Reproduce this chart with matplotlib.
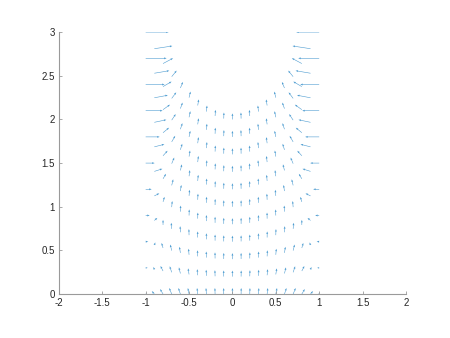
import numpy as np
import matplotlib
matplotlib.use("Agg")
import matplotlib.pyplot as plt

plt.rcParams['font.family'] = ['Liberation Sans', 'DejaVu Sans']
plt.rcParams['axes.unicode_minus'] = False

# grid: left half columns (x = -1 .. 0), right half is mirrored
x_left = [-1.0, -0.9, -0.8, -0.7, -0.6, -0.5, -0.4, -0.3, -0.2, -0.1, 0.0]
# height of the top row in each column
top_left = [3.0, 2.81, 2.64, 2.49, 2.36, 2.25, 2.16, 2.09, 2.04, 2.01, 2.0]
# fraction of the column height for each row (bottom to top)
row_frac = [0.0, 0.1, 0.2, 0.3, 0.4, 0.5, 0.6, 0.7, 0.8, 0.9, 1.0]

# horizontal component on the left half (rows bottom -> top), positive = inward
u_left = [
    [0.017, -0.029, -0.034, -0.029, -0.023, -0.014, -0.008, -0.005, -0.002, -0.001, 0.0],
    [0.023, -0.011, -0.029, -0.023, -0.017, -0.011, -0.006, -0.003, -0.002, -0.001, 0.0],
    [0.029, 0.011, -0.017, -0.017, -0.011, -0.006, -0.003, -0.002, -0.001, 0.0, 0.0],
    [0.046, 0.034, 0.0, -0.006, -0.003, -0.002, -0.001, 0.0, 0.0, 0.0, 0.0],
    [0.069, 0.057, 0.017, 0.006, 0.003, 0.002, 0.001, 0.0, 0.0, 0.0, 0.0],
    [0.103, 0.092, 0.034, 0.017, 0.011, 0.006, 0.003, 0.002, 0.001, 0.0, 0.0],
    [0.161, 0.115, 0.052, 0.029, 0.017, 0.009, 0.006, 0.003, 0.002, 0.001, 0.0],
    [0.195, 0.138, 0.069, 0.040, 0.021, 0.011, 0.008, 0.005, 0.003, 0.001, 0.0],
    [0.218, 0.155, 0.080, 0.046, 0.023, 0.014, 0.009, 0.006, 0.003, 0.001, 0.0],
    [0.241, 0.172, 0.098, 0.052, 0.025, 0.015, 0.010, 0.006, 0.003, 0.002, 0.0],
    [0.264, 0.207, 0.115, 0.057, 0.029, 0.017, 0.011, 0.007, 0.005, 0.002, 0.0],
]
# vertical component on the left half
v_left = [
    [0.0, 0.034, 0.057, 0.069, 0.069, 0.069, 0.069, 0.069, 0.069, 0.069, 0.069],
    [0.0, 0.029, 0.057, 0.069, 0.069, 0.069, 0.069, 0.069, 0.069, 0.069, 0.069],
    [0.0, 0.029, 0.057, 0.069, 0.069, 0.069, 0.069, 0.069, 0.069, 0.069, 0.069],
    [0.0, 0.029, 0.057, 0.069, 0.069, 0.069, 0.069, 0.069, 0.069, 0.069, 0.069],
    [0.0, 0.029, 0.057, 0.069, 0.069, 0.069, 0.069, 0.069, 0.069, 0.069, 0.069],
    [0.0, 0.029, 0.057, 0.069, 0.069, 0.069, 0.069, 0.069, 0.069, 0.069, 0.069],
    [0.0, 0.029, 0.057, 0.069, 0.069, 0.069, 0.069, 0.069, 0.069, 0.069, 0.069],
    [0.0, 0.029, 0.057, 0.069, 0.069, 0.069, 0.069, 0.069, 0.069, 0.069, 0.069],
    [0.0, 0.029, 0.057, 0.069, 0.069, 0.069, 0.069, 0.069, 0.069, 0.069, 0.069],
    [0.0, 0.029, 0.057, 0.069, 0.069, 0.069, 0.069, 0.069, 0.069, 0.069, 0.069],
    [0.0, 0.031, 0.061, 0.069, 0.069, 0.069, 0.069, 0.069, 0.069, 0.069, 0.069],
]

xt = [-2, -1.5, -1, -0.5, 0, 0.5, 1, 1.5, 2]
yt = [0, 0.5, 1, 1.5, 2, 2.5, 3]

# mirror the left half onto the right
xl = np.array(x_left)
x_all = np.concatenate([xl, -xl[-2::-1]])
top = np.array(top_left)
top_all = np.concatenate([top, top[-2::-1]])
ul = np.array(u_left)
vl = np.array(v_left)
U = np.hstack([ul, -ul[:, -2::-1]])
V = np.hstack([vl, vl[:, -2::-1]])

X = np.tile(x_all, (len(row_frac), 1))
Y = np.outer(row_frac, top_all)

fig = plt.figure(figsize=(4.5, 3.38), dpi=100)
ax = fig.add_axes([0.131, 0.130, 0.771, 0.775])

ax.quiver(X, Y, U, V, angles='xy', scale_units='xy', scale=1,
          color='#0072BD', alpha=0.7, width=0.0016, headwidth=3.5,
          headlength=4.5, headaxislength=4.2)

ax.set_xlim(-2, 2)
ax.set_ylim(0, 3)
ax.set_xticks(xt)
ax.set_xticklabels(['-2', '-1.5', '-1', '-0.5', '0', '0.5', '1', '1.5', '2'])
ax.set_yticks(yt)
ax.set_yticklabels(['0', '0.5', '1', '1.5', '2', '2.5', '3'])

for s in ['top', 'right']:
    ax.spines[s].set_visible(False)
for s in ['left', 'bottom']:
    ax.spines[s].set_color('#9a9a9a')
    ax.spines[s].set_linewidth(0.8)
ax.tick_params(direction='in', length=2.5, width=0.6, color='#9a9a9a',
               labelsize=7, labelcolor='#262626', pad=3)

fig.savefig('out.png', dpi=100)
